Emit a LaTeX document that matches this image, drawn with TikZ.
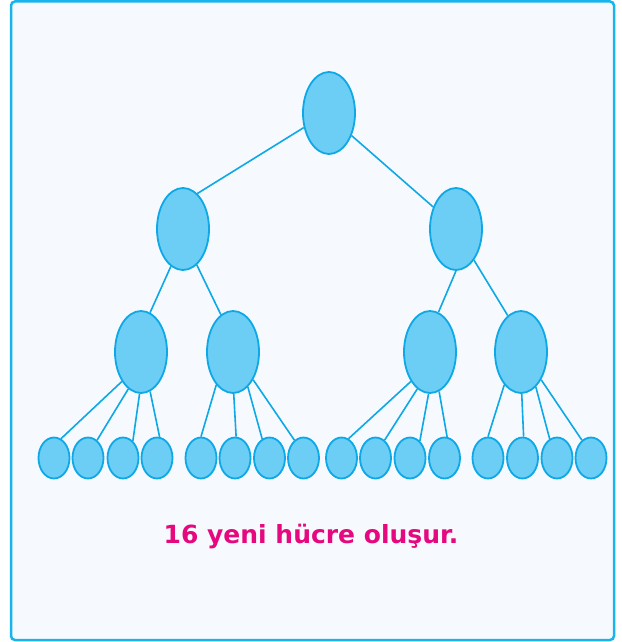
\documentclass[tikz,border=0pt]{standalone}
\usepackage{fontspec}
\newfontfamily\labelfont{DejaVu Sans}
\usetikzlibrary{shapes.geometric}
\definecolor{cellfill}{HTML}{6CCEF5}
\definecolor{celledge}{HTML}{0EA8E6}
\definecolor{framecol}{HTML}{1AB4EC}
\definecolor{panel}{HTML}{F6FAFE}
\definecolor{textmag}{HTML}{E5087E}
\tikzset{
  big/.style={ellipse, draw=celledge, fill=cellfill, line width=1.8pt, minimum width=52pt, minimum height=82pt, inner sep=0pt},
  small/.style={ellipse, draw=celledge, fill=cellfill, line width=1.8pt, minimum width=31pt, minimum height=41pt, inner sep=0pt},
  link/.style={draw=celledge, line width=1.6pt},
}
\begin{document}
\begin{tikzpicture}[x=1pt,y=-1pt]
\useasboundingbox (0,0) rectangle (621,642);
\fill[white] (0,0) rectangle (621,642);
\draw[framecol, fill=panel, line width=2.5pt, rounded corners=4pt] (11,1.5) rectangle (614,640);
% nodes
\node[big] (root) at (329,113) {};
\node[big] (l) at (183,229) {};
\node[big] (r2) at (456,229) {};
\node[big] (ll) at (141,352) {};
\node[big] (lr) at (233,352) {};
\node[big] (rl) at (430,352) {};
\node[big] (rr) at (521,352) {};
\foreach \i/\x in {1/54,2/88,3/123,4/157,5/201,6/235,7/269.5,8/303.5,9/341.5,10/375.5,11/410,12/444.5,13/488,14/522.5,15/557,16/591}
  \node[small] (c\i) at (\x,458) {};
% connectors
\draw[link] (root.210) -- (l.68);
\draw[link] (root.315) -- (r2.136);
\draw[link] (l.252) -- (ll.77);
\draw[link] (l.291) -- (lr.108);
\draw[link] (r2.270) -- (rl.78);
\draw[link] (r2.300) -- (rr.110);
% left-fanned groups
\foreach \p/\a/\b/\c/\d in {ll/1/2/3/4, rl/9/10/11/12}{
  \draw[link] (\p.237) -- (c\a.70);
  \draw[link] (\p.251) -- (c\b.63);
  \draw[link] (\p.268) -- (c\c.60);
  \draw[link] (\p.283) -- (c\d.83);
}
% right-fanned groups
\foreach \p/\a/\b/\c/\d in {lr/5/6/7/8, rr/13/14/15/16}{
  \draw[link] (\p.243) -- (c\a.90);
  \draw[link] (\p.271) -- (c\b.87);
  \draw[link] (\p.293) -- (c\c.111);
  \draw[link] (\p.306) -- (c\d.117);
}
\node[text=textmag, font=\labelfont\bfseries\fontsize{25}{30}\selectfont] (caption) at (311,537) {16 yeni hücre oluşur.};
\end{tikzpicture}
\end{document}
